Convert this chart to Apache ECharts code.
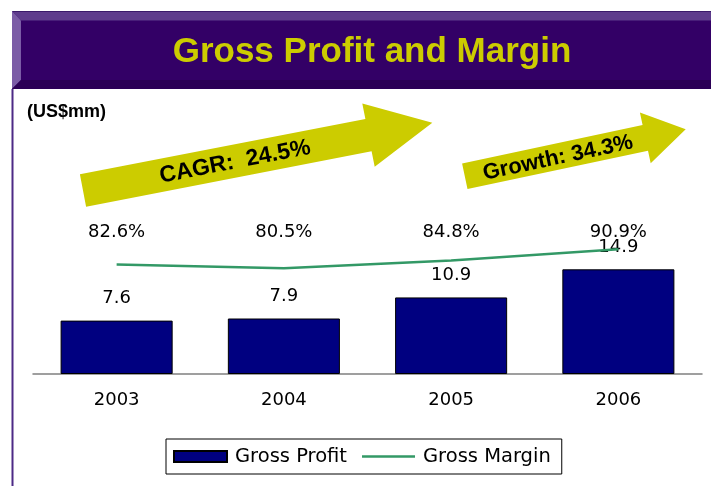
<!DOCTYPE html>
<html>
<head>
<meta charset="utf-8">
<script src="https://cdn.jsdelivr.net/npm/echarts@6/dist/echarts.min.js"></script>
<style>
html,body{margin:0;padding:0;background:#fff;}
#main{width:711px;height:486px;}
</style>
</head>
<body>
<div id="main"></div>
<script>
var categories = ['2003', '2004', '2005', '2006'];
var grossProfit = [7.6, 7.9, 10.9, 14.9];
var grossMargin = [82.6, 80.5, 84.8, 90.9];
var marginLabelLevel = [100, 100, 100, 100];

var chart = echarts.init(document.getElementById('main'), null, {renderer: 'canvas'});
var labelFont = 'DejaVu Sans';
var boldFont = '"Liberation Sans", Arial, sans-serif';

var option = {
  backgroundColor: '#ffffff',
  animation: false,
  grid: {left: 33, right: 9, top: 93, bottom: 112, containLabel: false},
  xAxis: {
    type: 'category',
    data: categories,
    axisLine: {show: true, lineStyle: {color: '#808080', width: 1.5}},
    axisTick: {show: false},
    axisLabel: {color: '#000', fontFamily: labelFont, fontSize: 18, margin: 17}
  },
  yAxis: [
    {type: 'value', min: 0, max: 40, show: false, splitLine: {show: false}},
    {type: 'value', min: 22.74, max: 176.3, show: false, splitLine: {show: false}}
  ],
  legend: {
    data: [
      {name: 'Gross Profit', icon: 'rect'},
      {name: 'Gross Margin', icon: 'path://M0,0L53,0L53,2.5L0,2.5Z'}
    ],
    left: 166,
    top: 439,
    orient: 'horizontal',
    itemWidth: 53,
    itemHeight: 11,
    itemGap: 15,
    padding: [6.5, 11, 6.5, 7],
    borderColor: '#000',
    borderWidth: 1,
    textStyle: {color: '#000', fontFamily: labelFont, fontSize: 19.5, lineHeight: 22, padding: [0, 0, 0, 3]}
  },
  series: [
    {
      name: 'Gross Profit',
      type: 'bar',
      data: grossProfit,
      barWidth: '67%',
      itemStyle: {color: '#000080', borderColor: '#000', borderWidth: 1},
      label: {show: true, position: 'top', distance: 13, color: '#000', fontFamily: labelFont, fontSize: 18},
      z: 2
    },
    {
      name: 'Gross Margin',
      type: 'line',
      yAxisIndex: 1,
      data: grossMargin,
      symbol: 'none',
      lineStyle: {color: '#339966', width: 2.5},
      itemStyle: {color: '#339966'},
      z: 3
    },
    {
      name: 'marginLabels',
      type: 'scatter',
      yAxisIndex: 1,
      data: marginLabelLevel,
      symbolSize: 1,
      itemStyle: {color: '#ffffff', opacity: 1},
      label: {
        show: true, position: 'inside', color: '#000000', textBorderWidth: 0, opacity: 1,
        fontFamily: labelFont, fontSize: 18,
        formatter: function (p) { return grossMargin[p.dataIndex].toFixed(1) + '%'; }
      },
      silent: true,
      z: 4
    }
  ],
  graphic: [
    {type: 'rect', shape: {x: 12, y: 11, width: 700, height: 78}, style: {fill: '#330066'}, silent: true},
    {type: 'polygon', shape: {points: [[12, 11], [712, 11], [712, 20.5], [21, 20.5]]}, style: {fill: '#5e3c8c'}, silent: true},
    {type: 'rect', shape: {x: 12, y: 11, width: 700, height: 1}, style: {fill: '#3a1a6a'}, silent: true},
    {type: 'polygon', shape: {points: [[12, 11], [21, 20.5], [21, 80], [12, 89]]}, style: {fill: '#7b5ca6'}, silent: true},
    {type: 'polygon', shape: {points: [[12, 89], [21, 80], [712, 80], [712, 89]]}, style: {fill: '#2b0055'}, silent: true},
    {type: 'line', shape: {x1: 12.5, y1: 89, x2: 12.5, y2: 486}, style: {stroke: '#4d2a86', lineWidth: 2}, silent: true},
    {type: 'text', x: 372, y: 52, silent: true,
      style: {text: 'Gross Profit and Margin', fill: '#CCCC00', font: 'bold 35px ' + boldFont, align: 'center', verticalAlign: 'middle'}},
    {type: 'text', x: 27, y: 112, silent: true,
      style: {text: '(US$mm)', fill: '#000', font: 'bold 18px ' + boldFont, align: 'left', verticalAlign: 'middle'}},
    {type: 'polygon', silent: true,
      shape: {points: [[79.9, 174.3], [365.4, 118.9], [362.3, 103.4], [432.3, 122.7], [374.7, 166.8], [371.6, 151.3], [86.1, 206.7]]},
      style: {fill: '#CCCC00'}},
    {type: 'text', x: 235, y: 162, rotation: 11 * Math.PI / 180, silent: true,
      style: {text: 'CAGR:  24.5%', fill: '#000', font: 'bold 23px ' + boldFont, align: 'center', verticalAlign: 'middle'}},
    {type: 'polygon', silent: true,
      shape: {points: [[462.1, 163.4], [642.6, 125.1], [639.9, 112.6], [685.7, 129.3], [650.7, 163.2], [648.0, 150.7], [467.5, 189.0]]},
      style: {fill: '#CCCC00'}},
    {type: 'text', x: 558, y: 158, rotation: 12 * Math.PI / 180, silent: true,
      style: {text: 'Growth: 34.3%', fill: '#000', font: 'bold 22px ' + boldFont, align: 'center', verticalAlign: 'middle'}}
  ]
};
chart.setOption(option);
</script>
</body>
</html>
